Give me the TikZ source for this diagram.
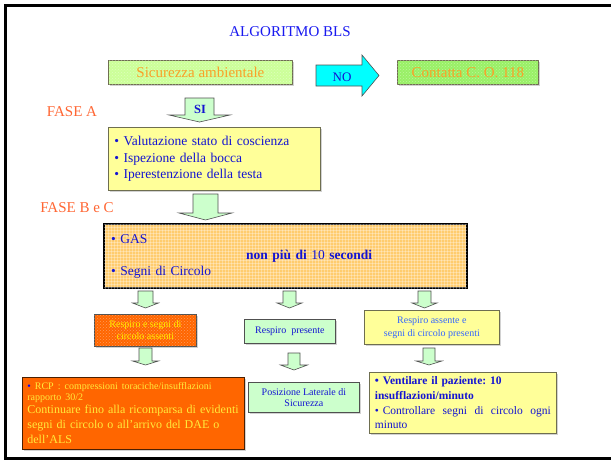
\documentclass[tikz,border=0pt]{standalone}
\usepackage{fontspec}
\setmainfont{Liberation Serif}
\usetikzlibrary{shadows,patterns}
\frenchspacing
\definecolor{ttl}{RGB}{25,25,240}
\definecolor{txtblue}{RGB}{20,20,210}
\definecolor{lblue}{RGB}{51,102,255}
\definecolor{orng}{RGB}{250,160,40}
\definecolor{fase}{RGB}{255,102,51}
\definecolor{sicfill}{RGB}{204,255,153}
\definecolor{cgreen}{RGB}{153,240,102}
\definecolor{mint}{RGB}{204,255,204}
\definecolor{pyellow}{RGB}{255,255,153}
\definecolor{lorange}{RGB}{255,204,110}
\definecolor{dorange}{RGB}{255,102,0}
\definecolor{ytext}{RGB}{255,235,60}
\definecolor{edge}{RGB}{110,110,80}
\definecolor{medge}{RGB}{80,80,80}
\definecolor{cyanfill}{RGB}{0,255,255}
\newcommand\fsz[2]{\fontsize{#1}{#2}\selectfont}
\newcommand\dnarrow[6]{%
  \draw[blockarrow] ({#1-#2},#4) -- ({#1+#2},#4) -- ({#1+#2},#5) -- ({#1+#3},#5)
    -- (#1,#6) -- ({#1-#3},#5) -- ({#1-#2},#5) -- cycle;}
\begin{document}
\begin{tikzpicture}[x=1pt,y=-1pt,
  box/.style={draw=edge, line width=0.8pt, inner sep=0pt, anchor=north west, align=center,
    drop shadow={shadow xshift=1.2pt, shadow yshift=-1.2pt, opacity=0.35}},
  blockarrow/.style={draw=medge, line width=0.6pt, fill=mint},
  noarrow/.style={draw=medge, line width=0.6pt, fill=cyanfill},
  phase/.style={text=fase, font=\fsz{15}{18}},
  dots/.style={postaction={pattern=crosshatch dots, pattern color=white, opacity=0.35}},
  grids/.style={postaction={pattern=grid, pattern color=white, opacity=0.3}}
]
\useasboundingbox (0,0) rectangle (611,461);
\fill[white] (0,0) rectangle (611,461);
% frame
\draw[line width=2.5pt] (611,5.5) -- (5.5,5.5) -- (5.5,458.5) -- (611,458.5);

% title and phases
\node[text=ttl, font=\fsz{15}{18}] (title) at (290,32) {ALGORITMO BLS};
\node[phase] (faseA) at (72,112) {FASE A};
\node[phase] (faseBC) at (77,208) {FASE B e C};

% top row
\node[box, fill=sicfill, dots, minimum width=184pt, minimum height=24pt, text=orng, font=\fsz{15}{18}] (sic) at (108,60) {Sicurezza ambientale};
\node[box, fill=cgreen, dots, minimum width=141pt, minimum height=24pt, text=orng, font=\fsz{15}{18}] (cto) at (397,60) {Contatta C. O. 118};
\draw[noarrow] (316,65) -- (362,65) -- (362,55) -- (379,75.5) -- (362,96) -- (362,86) -- (316,86) -- cycle;
\node[text=txtblue, font=\fsz{13}{15}] (no) at (342,77) {NO};

% SI arrow
\dnarrow{199.5}{14.5}{30.5}{98}{115}{122}
\node[text=txtblue, font=\bfseries\fsz{12.5}{15}] (si) at (200,109) {SI};

% fase A box
\node[box, fill=pyellow, minimum width=212pt, minimum height=63pt, text=txtblue,
  text width=200pt, align=left, font=\fsz{13.5}{16.5}] (A) at (108,127)
  {\textbullet\ Valutazione stato di coscienza\\
   \textbullet\ Ispezione della bocca\\
   \textbullet\ Iperestenzione della testa};

\dnarrow{205.5}{12.5}{26.5}{194}{213}{220}

% fase B e C box
\node[box, draw=black, line width=2.2pt, fill=lorange, grids, minimum width=363pt, minimum height=64pt,
  text=txtblue, text width=349pt, align=left, font=\fsz{13.5}{16}] (BC) at (103,223)
  {\textbullet\ GAS\\
   \hspace*{135pt}\textbf{non più di} 10 \textbf{secondi}\\
   \textbullet\ Segni di Circolo};

% first arrows
\dnarrow{145.5}{7.5}{13}{291}{303}{308}
\dnarrow{289.5}{6.5}{12.5}{291}{303}{308}
\dnarrow{424.5}{6.5}{12.5}{291}{303}{308}

% middle boxes
\node[box, draw=medge, fill=dorange, dots, minimum width=102pt, minimum height=32pt, text=yellow,
  font=\fsz{10}{12}] (R1) at (94,314) {Respiro e segni di\\circolo assenti};
\node[box, draw=medge, fill=mint, minimum width=91pt, minimum height=24pt, text=txtblue,
  font=\fsz{10}{12}] (R2) at (244,319) {Respiro\ \ presente};
\node[box, fill=pyellow, minimum width=135pt, minimum height=34pt, text=lblue,
  font=\fsz{10}{13}] (R3) at (364,310) {Respiro assente e\\segni di circolo presenti};

% second arrows
\dnarrow{145.5}{6.5}{13}{348}{361}{365}
\dnarrow{294}{6}{13.5}{353}{365}{370}
\dnarrow{429}{6}{13}{348}{361}{365}

% bottom boxes
\node[box, draw=black!70!dorange, fill=dorange, minimum width=222pt, minimum height=72pt, text=ytext,
  text width=212pt, align=left, font=\fsz{12}{15}] (RCP) at (22,377)
  {{\fsz{10}{12}{\color{blue}\textbullet}\ RCP : compressioni toraciche/insufflazioni}\\[-4pt]
   {\fsz{10}{12}rapporto 30/2}\\[-2pt]
   Continuare fino alla ricomparsa di evidenti\\
   segni di circolo o all’arrivo del DAE o\\
   dell’ALS};
\node[box, draw=medge, fill=mint, minimum width=111pt, minimum height=30pt, text=txtblue,
  font=\fsz{10}{11.5}] (POS) at (248,382) {Posizione Laterale di\\Sicurezza};
\node[box, fill=pyellow, minimum width=187pt, minimum height=61pt, text=txtblue,
  text width=176pt, align=left, font=\fsz{11.5}{14.7}] (VEN) at (369,372)
  {\textbf{\textbullet\ Ventilare il paziente: 10}\\
   \textbf{insufflazioni/minuto}\\
   \makebox[176pt][l]{\textbullet\ Controllare\hfill segni\hfill di\hfill circolo\hfill ogni}\\
   minuto};
\end{tikzpicture}
\end{document}
